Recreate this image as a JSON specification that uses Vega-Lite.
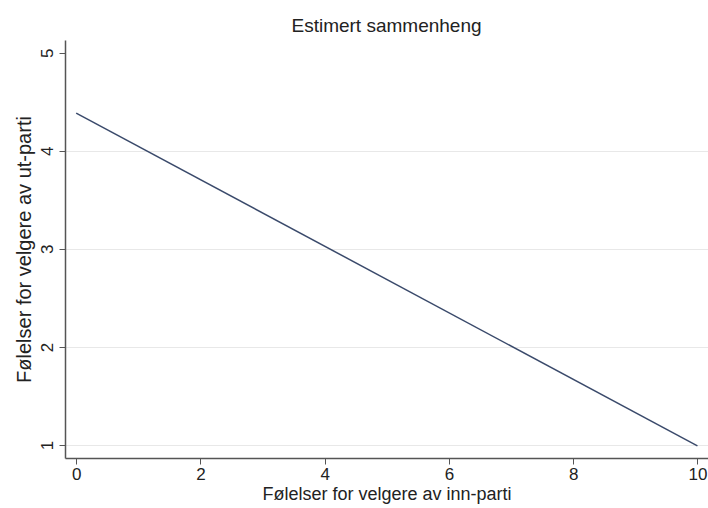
{
  "$schema": "https://vega.github.io/schema/vega-lite/v6.json",
  "width": 643,
  "height": 418,
  "autosize": "none",
  "padding": {"left": 65, "top": 40, "right": 0, "bottom": 50},
  "background": "white",
  "title": {
    "text": "Estimert sammenheng",
    "font": "Liberation Sans",
    "fontSize": 19,
    "fontWeight": "normal",
    "color": "#222222",
    "anchor": "middle",
    "offset": 4
  },
  "config": {"view": {"stroke": null}},
  "data": {"values": [
    {"inn": 0, "ut": 4.385},
    {"inn": 10, "ut": 0.99}
  ]},
  "mark": {"type": "line", "color": "#3a4a6b", "strokeWidth": 1.5, "clip": true},
  "encoding": {
    "x": {
      "field": "inn", "type": "quantitative",
      "scale": {"domain": [-0.18, 10.17], "nice": false, "zero": false},
      "axis": {
        "title": "Følelser for velgere av inn-parti",
        "values": [0, 2, 4, 6, 8, 10],
        "grid": false,
        "domainColor": "#555555", "domainWidth": 1.5,
        "tickColor": "#555555", "tickSize": 6,
        "labelFont": "Liberation Sans", "labelFontSize": 17, "labelColor": "#222222", "labelPadding": 2,
        "titleFont": "Liberation Sans", "titleFontSize": 18, "titleFontWeight": "normal", "titleColor": "#222222", "titlePadding": 3
      }
    },
    "y": {
      "field": "ut", "type": "quantitative",
      "scale": {"domain": [0.867, 5.13], "nice": false, "zero": false},
      "axis": {
        "title": "Følelser for velgere av ut-parti",
        "values": [1, 2, 3, 4, 5],
        "grid": true,
        "gridColor": "#e8e8e8",
        "gridOpacity": {"condition": {"test": "datum.value === 5", "value": 0}, "value": 1},
        "domainColor": "#555555", "domainWidth": 1.5,
        "tickColor": "#555555", "tickSize": 6,
        "labelAngle": -90, "labelAlign": "center", "labelBaseline": "bottom",
        "labelFont": "Liberation Sans", "labelFontSize": 17, "labelColor": "#222222", "labelPadding": 3,
        "titleFont": "Liberation Sans", "titleFontSize": 20, "titleFontWeight": "normal", "titleColor": "#222222", "titlePadding": 4
      }
    }
  }
}
